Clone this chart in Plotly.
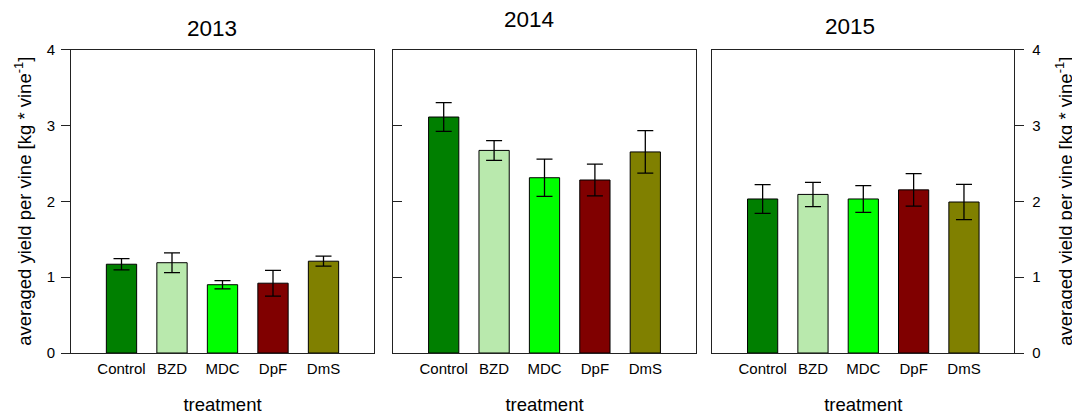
import plotly.graph_objects as go

categories = ["Control", "BZD", "MDC", "DpF", "DmS"]
colors = ["#007f00", "#b9e9ad", "#00ff00", "#800000", "#808000"]
years = ["2013", "2014", "2015"]
y2013 = [1.17, 1.19, 0.90, 0.92, 1.21]
e2013 = [0.075, 0.13, 0.055, 0.17, 0.066]
y2014 = [3.11, 2.67, 2.31, 2.28, 2.65]
e2014 = [0.19, 0.13, 0.245, 0.21, 0.28]
y2015 = [2.03, 2.09, 2.03, 2.15, 1.99]
e2015 = [0.19, 0.16, 0.176, 0.213, 0.233]
yticks = [0, 1, 2, 3, 4]

W, H = 1080, 415
OFF = 8  # page body margin compensation
FONT = "Liberation Sans, Arial, sans-serif"

def px_x(x):
    return (x - OFF) / W

def px_y(y):
    return (H - (y - OFF)) / H

fig = go.Figure()
vals = [y2013, y2014, y2015]
errs = [e2013, e2014, e2015]
xdoms = [(71, 374), (393.3, 695.7), (712.3, 1014.3)]
ydom = [px_y(353), px_y(49.5)]

for i in range(3):
    sfx = "" if i == 0 else str(i + 1)
    fig.add_trace(go.Bar(
        x=categories, y=vals[i],
        xaxis="x" + sfx, yaxis="y" + sfx,
        width=0.6,
        marker=dict(color=colors, line=dict(color="#000000", width=1)),
        error_y=dict(type="data", array=errs[i], visible=True,
                     color="#000000", thickness=1.3, width=8),
        showlegend=False,
    ))

layout = dict(
    template="none",
    width=W, height=H,
    margin=dict(l=0, r=0, t=0, b=0, pad=0, autoexpand=False),
    paper_bgcolor="white", plot_bgcolor="white",
    font=dict(family=FONT, color="#000000", size=14),
    bargap=0.4,
)

ytitle = "averaged yield per vine [kg * vine<sup>-1</sup>]"
for i in range(3):
    sfx = "" if i == 0 else str(i + 1)
    x0, x1 = xdoms[i]
    layout["xaxis" + sfx] = dict(
        domain=[px_x(x0), px_x(x1)], anchor="y" + sfx,
        type="category", range=[-1, 5], automargin=False,
        showline=True, linecolor="#222222", linewidth=1, mirror=True,
        ticks="", showgrid=False, zeroline=False,
        tickfont=dict(size=15, family=FONT, color="#000000"),
        ticklabelstandoff=2,
        title=dict(text="treatment", font=dict(size=18.5, family=FONT), standoff=22),
    )
    yax = dict(
        domain=ydom, anchor="x" + sfx, automargin=False,
        range=[0, 4], tickvals=yticks,
        showline=True, linecolor="#222222", linewidth=1, mirror=True,
        showgrid=False, zeroline=False,
        ticklen=9, tickcolor="#222222", tickwidth=1,
        tickfont=dict(size=15, family=FONT, color="#000000"),
    )
    if i == 0:
        yax.update(ticks="outside", side="left", showticklabels=True,
                   ticklabelstandoff=3,
                   title=dict(text=ytitle, font=dict(size=18.5, family=FONT), standoff=10))
    elif i == 1:
        yax.update(ticks="inside", showticklabels=False)
    else:
        yax.update(ticks="outside", side="right", showticklabels=True,
                   ticklabelstandoff=5,
                   title=dict(text=ytitle, font=dict(size=18.5, family=FONT), standoff=19))
    layout["yaxis" + sfx] = yax

fig.update_layout(**layout)

title_pos = [(212, 28), (529, 19), (850, 26)]
for (tx, ty), yr in zip(title_pos, years):
    fig.add_annotation(text=yr, x=px_x(tx), y=px_y(ty), xref="paper", yref="paper",
                       showarrow=False, xanchor="center", yanchor="middle",
                       font=dict(size=22.5, family=FONT, color="#000000"))

fig.write_html("out.html")
